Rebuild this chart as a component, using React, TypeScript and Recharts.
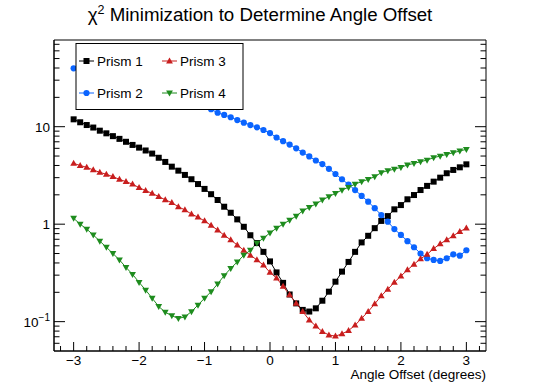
import React from "react";
import { LineChart, Line, XAxis, YAxis, ReferenceArea } from "recharts";

// angle offsets in degrees, one point every 0.1
const angles = [
  -3.0, -2.9, -2.8, -2.7, -2.6, -2.5, -2.4, -2.3, -2.2, -2.1,
  -2.0, -1.9, -1.8, -1.7, -1.6, -1.5, -1.4, -1.3, -1.2, -1.1,
  -1.0, -0.9, -0.8, -0.7, -0.6, -0.5, -0.4, -0.3, -0.2, -0.1,
  0.0, 0.1, 0.2, 0.3, 0.4, 0.5, 0.6, 0.7, 0.8, 0.9,
  1.0, 1.1, 1.2, 1.3, 1.4, 1.5, 1.6, 1.7, 1.8, 1.9,
  2.0, 2.1, 2.2, 2.3, 2.4, 2.5, 2.6, 2.7, 2.8, 2.9, 3.0,
];

const prism1 = [
  11.9, 11.1, 10.4, 9.8, 9.1, 8.55, 8.0, 7.5, 7.0, 6.5,
  6.1, 5.7, 5.3, 4.8, 4.35, 3.89, 3.54, 3.2, 2.89, 2.58,
  2.3, 2.03, 1.77, 1.51, 1.31, 1.12, 0.94, 0.77, 0.64, 0.52,
  0.415, 0.32, 0.25, 0.19, 0.154, 0.132, 0.127, 0.137, 0.164, 0.203,
  0.257, 0.326, 0.41, 0.52, 0.65, 0.76, 0.91, 1.08, 1.21, 1.42,
  1.57, 1.8, 1.99, 2.24, 2.47, 2.73, 3.0, 3.33, 3.6, 3.83, 4.11,
];

// points between -2.9 and -1.0 sit behind the legend box
const prism2 = [
  39.7, null, null, null, null, null, null, null, null, null,
  null, null, null, null, null, null, null, null, null, null,
  null, 15.1, 13.9, 13.2, 12.5, 11.7, 11.0, 10.4, 9.86, 9.25,
  8.6, 7.75, 7.1, 6.55, 6.0, 5.43, 4.95, 4.5, 4.14, 3.7,
  3.27, 2.89, 2.55, 2.24, 1.95, 1.7, 1.46, 1.24, 1.06, 0.89,
  0.775, 0.67, 0.58, 0.5, 0.447, 0.43, 0.42, 0.447, 0.49, 0.475, 0.54,
];

const prism3 = [
  4.2, 4.0, 3.83, 3.6, 3.4, 3.25, 3.07, 2.88, 2.73, 2.57,
  2.37, 2.21, 2.07, 1.92, 1.78, 1.66, 1.51, 1.4, 1.27, 1.18,
  1.08, 0.97, 0.87, 0.77, 0.69, 0.61, 0.54, 0.48, 0.43, 0.38,
  0.32, 0.28, 0.23, 0.188, 0.154, 0.127, 0.104, 0.09, 0.079, 0.073,
  0.071, 0.075, 0.081, 0.092, 0.108, 0.127, 0.152, 0.184, 0.215, 0.253,
  0.294, 0.339, 0.388, 0.44, 0.49, 0.56, 0.63, 0.69, 0.76, 0.84, 0.91,
];

const prism4 = [
  1.15, 1.0, 0.89, 0.775, 0.67, 0.58, 0.5, 0.43, 0.36, 0.306,
  0.253, 0.211, 0.174, 0.143, 0.125, 0.115, 0.108, 0.112, 0.127, 0.148,
  0.174, 0.203, 0.244, 0.297, 0.352, 0.41, 0.48, 0.54, 0.64, 0.72,
  0.815, 0.91, 1.0, 1.1, 1.21, 1.37, 1.49, 1.61, 1.77, 1.92,
  2.07, 2.24, 2.39, 2.58, 2.73, 2.88, 3.07, 3.38, 3.54, 3.66,
  3.83, 4.05, 4.2, 4.37, 4.55, 4.81, 5.0, 5.2, 5.41, 5.63, 5.86,
];

const xTicks = [
  -3.2, -3, -2.8, -2.6, -2.4, -2.2, -2, -1.8, -1.6, -1.4, -1.2, -1, -0.8, -0.6, -0.4, -0.2,
  0, 0.2, 0.4, 0.6, 0.8, 1, 1.2, 1.4, 1.6, 1.8, 2, 2.2, 2.4, 2.6, 2.8, 3, 3.2,
];
const yTicks = [
  0.06, 0.07, 0.08, 0.09, 0.1, 0.2, 0.3, 0.4, 0.5, 0.6, 0.7, 0.8, 0.9,
  1, 2, 3, 4, 5, 6, 7, 8, 9, 10, 20, 30, 40, 50, 60, 70,
];

const FONT = "'Liberation Sans', Arial, Helvetica, sans-serif";
const C1 = "#000000";
const C2 = "#0a64ff";
const C3 = "#c81e1e";
const C4 = "#1e8c1e";

const PLOT_W = 432;

const rows = angles.map((a, i) => ({
  angle: a,
  p1: prism1[i],
  p2: prism2[i],
  p3: prism3[i],
  p4: prism4[i],
}));

function marker(kind: string, color: string, cx: number, cy: number, key?: any) {
  if (kind === "square")
    return <rect key={key} x={cx - 3} y={cy - 3} width={6} height={6} fill={color} />;
  if (kind === "circle") return <circle key={key} cx={cx} cy={cy} r={3.1} fill={color} />;
  if (kind === "up")
    return <polygon key={key} points={`${cx},${cy - 3.6} ${cx + 3.4},${cy + 2.4} ${cx - 3.4},${cy + 2.4}`} fill={color} />;
  return <polygon key={key} points={`${cx},${cy + 3.6} ${cx + 3.4},${cy - 2.4} ${cx - 3.4},${cy - 2.4}`} fill={color} />;
}

const dotOf = (kind: string, color: string) => (p: any) => {
  if (p.cx == null || p.cy == null || p.value == null) return <g key={p.index} />;
  return marker(kind, color, p.cx, p.cy, p.index);
};

function XTick(p: any) {
  const v = p.payload.value;
  const major = Math.abs(v - Math.round(v)) < 1e-6;
  return (
    <g>
      <line x1={p.x} y1={p.y} x2={p.x} y2={p.y - (major ? 9 : 5)} stroke="#000" />
      {major && (
        <text x={p.x} y={p.y + 14} textAnchor="middle" fontSize={13.5} fontFamily={FONT} fill="#000">
          {v < 0 ? `\u2212${Math.abs(v)}` : `${v}`}
        </text>
      )}
    </g>
  );
}

function YTick(p: any) {
  const v = p.payload.value;
  const major = v === 0.1 || v === 1 || v === 10;
  const len = major ? 11 : 5.5;
  return (
    <g>
      <line x1={p.x} y1={p.y} x2={p.x + len} y2={p.y} stroke="#000" />
      <line x1={p.x + PLOT_W} y1={p.y} x2={p.x + PLOT_W - len} y2={p.y} stroke="#000" />
      {major && (
        <text x={p.x - 4} y={p.y + 5} textAnchor="end" fontSize={13.5} fontFamily={FONT} fill="#000">
          {v === 0.1 ? (
            <>
              <tspan>10</tspan>
              <tspan dy={-6} fontSize={10}>{"\u22121"}</tspan>
            </>
          ) : (
            `${v}`
          )}
        </text>
      )}
    </g>
  );
}

const legendItems = [
  { name: "Prism 1", kind: "square", color: C1, x: 79, y: 61 },
  { name: "Prism 3", kind: "up", color: C3, x: 162, y: 61 },
  { name: "Prism 2", kind: "circle", color: C2, x: 79, y: 93 },
  { name: "Prism 4", kind: "down", color: C4, x: 162, y: 93 },
];

export default function App() {
  return (
    <div style={{ position: "absolute", left: 0, top: 0, width: 540, height: 390, background: "#fff" }}>
      <LineChart width={540} height={390} data={rows} margin={{ top: 40, right: 54, bottom: 9, left: 14 }}>
        <XAxis
          type="number"
          dataKey="angle"
          domain={[-3.3, 3.3]}
          ticks={xTicks}
          interval={0}
          allowDataOverflow
          tickSize={0}
          tickMargin={0}
          tickLine={false}
          tick={(p: any) => <XTick {...p} />}
          axisLine={{ stroke: "#000" }}
          height={30}
        />
        <YAxis
          scale="log"
          domain={[0.05, 77.5]}
          ticks={yTicks}
          interval={0}
          allowDataOverflow
          tickSize={0}
          tickMargin={0}
          tickLine={false}
          tick={(p: any) => <YTick {...p} />}
          axisLine={{ stroke: "#000" }}
          width={40}
        />
        <ReferenceArea x1={-3.3} x2={3.3} y1={0.05} y2={77.5} fill="none" stroke="#000" ifOverflow="visible" />
        <Line dataKey="p1" stroke={C1} strokeWidth={1} dot={dotOf("square", C1)} activeDot={false} isAnimationActive={false} />
        <Line dataKey="p2" stroke={C2} strokeWidth={1} dot={dotOf("circle", C2)} activeDot={false} isAnimationActive={false} />
        <Line dataKey="p3" stroke={C3} strokeWidth={1} dot={dotOf("up", C3)} activeDot={false} isAnimationActive={false} />
        <Line dataKey="p4" stroke={C4} strokeWidth={1} dot={dotOf("down", C4)} activeDot={false} isAnimationActive={false} />
      </LineChart>

      <svg width={540} height={390} style={{ position: "absolute", left: 0, top: 0, pointerEvents: "none" }}>
        <text x={260} y={21} textAnchor="middle" fontSize={18.7} fontFamily={FONT} fill="#000">
          <tspan>χ</tspan>
          <tspan dy={-7} fontSize={12.5}>2</tspan>
          <tspan dy={7}> Minimization to Determine Angle Offset</tspan>
        </text>
        <text x={486} y={379} textAnchor="end" fontSize={13.5} fontFamily={FONT} fill="#000">
          Angle Offset (degrees)
        </text>
        <rect x={76} y={43.5} width={167} height={66} fill="#fff" stroke="#000" strokeWidth={1} />
        {legendItems.map((it) => (
          <g key={it.name}>
            <line x1={it.x} y1={it.y} x2={it.x + 15} y2={it.y} stroke={it.color} strokeWidth={1} />
            {marker(it.kind, it.color, it.x + 7.5, it.y)}
            <text x={it.x + 18} y={it.y + 5} fontSize={13.5} fontFamily={FONT} fill="#000">
              {it.name}
            </text>
          </g>
        ))}
      </svg>
    </div>
  );
}
